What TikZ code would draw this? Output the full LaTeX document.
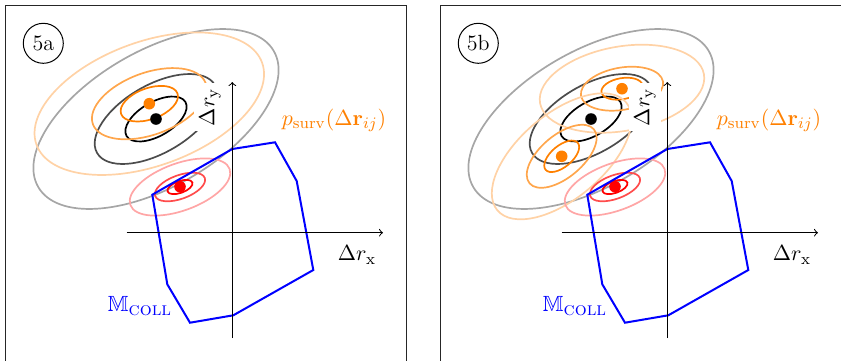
\documentclass[tikz,border=0pt]{standalone}
\usepackage{amsmath,amssymb}
\newcommand\gset[6]{%
 \begin{scope}[shift={(#2,-#3)},rotate=#6]
  \draw[ell,#1!35] (0,0) ellipse [x radius={4*#4}, y radius={4*#5}];
  \draw[ell,#1!70] (0,0) ellipse [x radius={2*#4}, y radius={2*#5}];
  \draw[ell,#1] (0,0) ellipse [x radius=#4, y radius=#5];
 \end{scope}}
\newcommand\panelrest{%
  % red contours
  \gset{red}{180}{187}{13.2}{5.9}{20}
  % dots
  \node[dotpt=black] (bdot) at (156,-119) {};
  \node[dotpt=red] (rdot) at (180,-186.7) {};
  % Delta r_y label (white background)
  \node[lbl, fill=white, rotate=90] (ly) at (210,-107) {$\Delta r_{\mathrm{y}}$};
  % collision polygon
  \coordinate (p1) at (152.3,-194.7);
  \coordinate (p2) at (232.3,-149);
  \coordinate (p3) at (275,-142.3);
  \coordinate (p4) at (296.7,-181);
  \coordinate (p5) at (313.3,-270);
  \coordinate (p6) at (233.3,-315.3);
  \coordinate (p7) at (190,-322.7);
  \coordinate (p8) at (167.3,-284.3);
  \draw[poly] (p1) -- (p2) -- (p3) -- (p4) -- (p5) -- (p6) -- (p7) -- (p8) -- cycle;
  % axes
  \coordinate (xs) at (126.7,-232.7);
  \coordinate (xe) at (383,-232.7);
  \coordinate (ys) at (232.3,-338);
  \coordinate (ye) at (232.3,-82);
  \draw[axis] (xs) -- (xe);
  \draw[axis] (ys) -- (ye);
  \node[lbl] (lx) at (357,-255) {$\Delta r_{\mathrm{x}}$};
  \node[lbl, text=orange] (lp) at (334,-120) {$p_{\mathrm{surv}}(\Delta\mathbf{r}_{ij})$};
  \node[lbl, text=blue] (lm) at (140,-306) {$\mathbb{M}_{\mbox{\fontsize{9.4pt}{11pt}\selectfont\textsc{coll}}}$};
}
\begin{document}
\begin{tikzpicture}[x=0.5pt,y=0.5pt,
  ell/.style={line width=0.85pt},
  dotpt/.style={circle, fill=#1, inner sep=0pt, minimum size=5.8pt},
  poly/.style={blue, line width=1pt, line join=miter},
  axis/.style={line width=0.5pt, ->},
  lbl/.style={inner sep=2.5pt, font=\fontsize{11pt}{13pt}\selectfont},
  frame/.style={line width=0.5pt, black!85},
  tag/.style={draw, circle, minimum size=20pt, inner sep=0pt, line width=0.5pt, font=\fontsize{11pt}{13pt}\selectfont}]
\useasboundingbox (0,0) rectangle (841,-360);
\clip (0,0) rectangle (841,-360);
% ---------------- panel 5a ----------------
\begin{scope}[name prefix=a-]
  \draw[frame] (5.7,-5.7) rectangle (406,-380);
  \node[tag] (tag) at (43.3,-43.3) {5a};
  \gset{black}{156}{119}{34}{17}{30}
  \gset{orange}{149.3}{103.7}{30}{15.5}{20}
  \node[dotpt=orange] (odot) at (149.3,-103.7) {};
  \panelrest
\end{scope}
% ---------------- panel 5b ----------------
\begin{scope}[shift={(435,0)}, name prefix=b-]
  \draw[frame] (5.7,-5.7) rectangle (420,-380);
  \node[tag] (tag) at (43.3,-43.3) {5b};
  \gset{black}{156}{119}{34}{17}{30}
  \gset{orange}{187}{88.7}{20.8}{10.55}{10}
  \gset{orange}{126.7}{156.3}{21}{10.6}{40}
  \node[dotpt=orange] (odot1) at (187,-88.7) {};
  \node[dotpt=orange] (odot2) at (126.7,-156.3) {};
  \panelrest
\end{scope}
\end{tikzpicture}
\end{document}
